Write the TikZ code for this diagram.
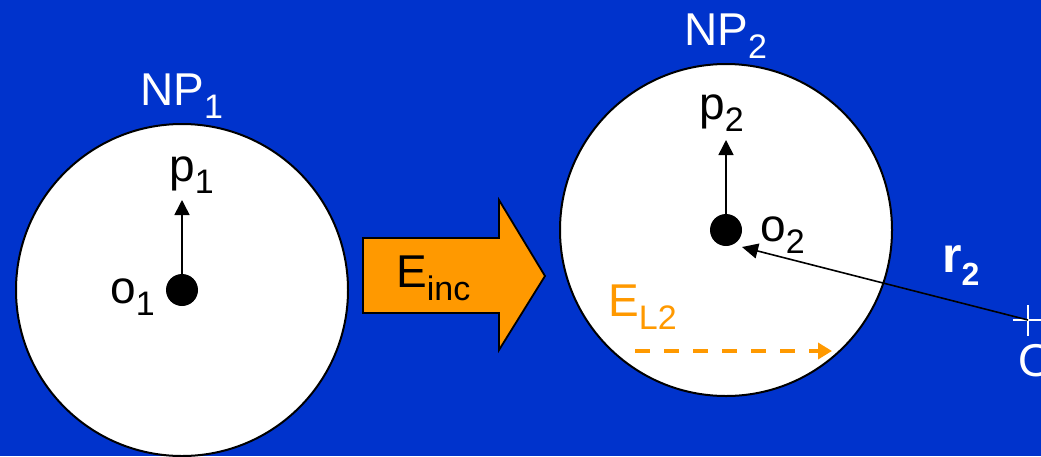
\documentclass[tikz,border=0pt]{standalone}
\usepackage{fontspec}
\setmainfont{Liberation Sans}
\usetikzlibrary{arrows.meta}
\definecolor{bg}{RGB}{0,51,204}
\definecolor{orng}{RGB}{255,153,0}
\newcommand{\mysub}[2][12]{\raisebox{-#1pt}{\fontsize{34}{34}\selectfont #2}}
\begin{document}
\begin{tikzpicture}[x=1pt,y=-1pt,
  lbl/.style={anchor=base west,inner sep=0pt,font=\fontsize{46}{50}\selectfont},
  particle/.style={circle,draw=black,line width=2pt,fill=white,minimum size=332pt,inner sep=0pt},
  dotnode/.style={circle,fill=black,minimum size=32pt,inner sep=0pt},
  dipole/.style={line width=1.6pt,-{Triangle[length=15pt,width=15pt]}},
  bigarrow/.style={fill=orng,draw=black,line width=1.8pt,line join=miter}]
\useasboundingbox (0,0) rectangle (1041,456);
\fill[bg] (0,0) rectangle (1041,456);
% particles
\node[particle] (np1) at (182,290) {};
\node[particle] (np2) at (726,230) {};
% incident field arrow
\draw[bigarrow] (363,238) -- (499,238) -- (499,200) -- (545,276) -- (499,350) -- (499,313) -- (363,313) -- cycle;
\node[lbl] (einc) at (396,287) {E\mysub[13]{inc}};
% dots
\node[dotnode] (o1) at (182,290) {};
\node[dotnode] (o2) at (726,230) {};
\coordinate (p1tip) at (182,200);
\coordinate (p2tip) at (726,140);
\draw[dipole] (o1.north) -- (p1tip);
\draw[dipole] (o2.north) -- (p2tip);
% observation point
\coordinate (O) at (1028,320);
\coordinate (r2tip) at (742,247);
\draw[white,line width=1.5pt] (1013,320) -- (1043,320) (1028,305) -- (1028,336);
\draw[line width=1.6pt,-{Triangle[length=16pt,width=15pt]}] (O) -- (r2tip);
% scattered field
\coordinate (el2a) at (635,351);
\coordinate (el2b) at (832,351);
\draw[orng,line width=4pt,dash pattern=on 15pt off 14pt,-{Triangle[length=14pt,width=16pt]}] (el2a) -- (el2b);
% labels
\node[lbl,text=white] (np1lbl) at (140,105) {NP\mysub[13]{1}};
\node[lbl,text=white] (np2lbl) at (684,45) {NP\mysub[13]{2}};
\node[lbl] (p1lbl) at (169,181) {p\mysub{1}};
\node[lbl] (p2lbl) at (699,119) {p\mysub{2}};
\node[lbl] (o1lbl) at (110,303) {o\mysub{1}};
\node[lbl] (o2lbl) at (760,241) {o\mysub{2}};
\node[lbl,text=orng] (el2lbl) at (608,316) {E\mysub[13]{L2}};
\node[anchor=base west,inner sep=0pt,text=white,font=\fontsize{50}{54}\selectfont\bfseries] (r2lbl) at (942,272) {r\raisebox{-13pt}{\fontsize{32}{32}\selectfont 2}};
\node[lbl,text=white] (Olbl) at (1018,376) {O};
\end{tikzpicture}
\end{document}
